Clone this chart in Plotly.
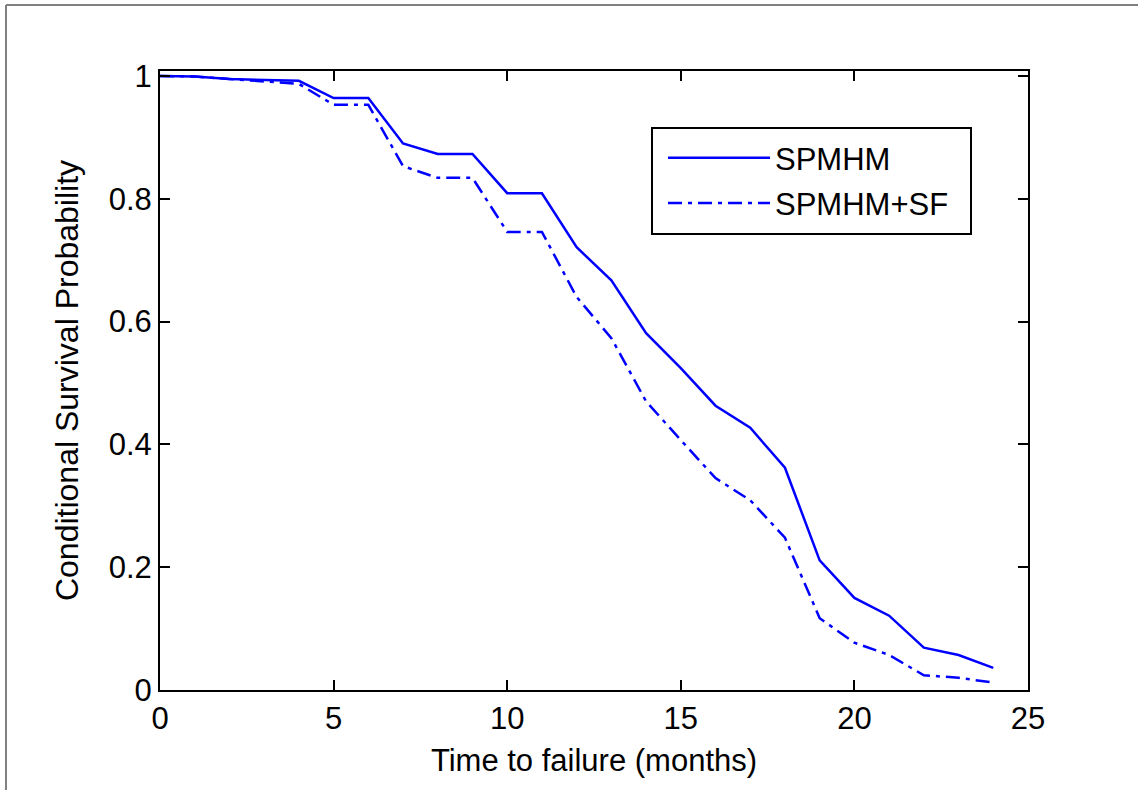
import plotly.graph_objects as go

months = list(range(0, 25))
spmhm = [1.000, 0.999, 0.995, 0.994, 0.992, 0.964, 0.964, 0.890, 0.873, 0.873,
         0.809, 0.809, 0.721, 0.667, 0.581, 0.524, 0.463, 0.427, 0.362, 0.211,
         0.150, 0.121, 0.069, 0.057, 0.036]
spmhm_sf = [1.000, 0.999, 0.995, 0.991, 0.987, 0.953, 0.953, 0.853, 0.834, 0.834,
            0.746, 0.746, 0.640, 0.573, 0.470, 0.407, 0.345, 0.309, 0.248, 0.117,
            0.077, 0.057, 0.024, 0.020, 0.012]
x_ticks = [0, 5, 10, 15, 20, 25]
y_ticks = [0, 0.2, 0.4, 0.6, 0.8, 1]
y_tick_labels = ["0", "0.2", "0.4", "0.6", "0.8", "1"]

FONT = "Liberation Sans, Arial, Helvetica, sans-serif"
FS = 31

fig = go.Figure()
fig.add_trace(go.Scatter(x=months, y=spmhm, mode="lines", name="SPMHM", legendgroup="a",
                         line=dict(color="#0000ff", width=2.5)))
fig.add_trace(go.Scatter(x=months, y=spmhm_sf, mode="lines", name="SPMHM+SF", legendgroup="b",
                         line=dict(color="#0000ff", width=2.5, dash="14px,6px,4px,6px")))

L, R, T, B = 160, 110, 71, 100
W, H = 1138, 790
pw, ph = W - L - R, H - T - B


def px(xp):
    return (xp - L) / pw


def py(yp):
    return (H - B - yp) / ph


axis_common = dict(showgrid=False, zeroline=False, showline=True, linecolor="black",
                   linewidth=2, mirror="ticks", ticks="inside", ticklen=10,
                   tickwidth=2, tickcolor="black",
                   tickfont=dict(family=FONT, size=FS, color="black"))

fig.update_layout(
    width=W, height=H,
    margin=dict(l=L, r=R, t=T, b=B, autoexpand=False),
    paper_bgcolor="white", plot_bgcolor="white",
    font=dict(family=FONT, size=FS, color="black"),
    xaxis=dict(range=[0, 25], tickvals=x_ticks, ticktext=[str(v) for v in x_ticks],
               title=dict(text="Time to failure (months)", font=dict(family=FONT, size=FS), standoff=14),
               **axis_common),
    yaxis=dict(range=[0, 1.008], tickvals=y_ticks, ticktext=y_tick_labels,
               title=dict(text="Conditional Survival Probability", font=dict(family=FONT, size=32), standoff=20),
               **axis_common),
    legend=dict(x=px(663), y=py(131), xanchor="left", yanchor="top",
                bgcolor="rgba(0,0,0,0)", borderwidth=0,
                font=dict(family=FONT, size=FS, color="black"),
                itemwidth=102, tracegroupgap=2),
    showlegend=True,
)

# Legend frame
fig.add_shape(type="rect", xref="paper", yref="paper",
              x0=px(652), x1=px(971), y0=py(128), y1=py(234),
              line=dict(color="black", width=2), fillcolor="rgba(0,0,0,0)", layer="above")

# Outer gray figure border (top and left)
fig.add_shape(type="line", xref="paper", yref="paper",
              x0=px(6), x1=px(W), y0=py(5), y1=py(5),
              line=dict(color="#808080", width=2))
fig.add_shape(type="line", xref="paper", yref="paper",
              x0=px(6), x1=px(6), y0=py(5), y1=py(H),
              line=dict(color="#808080", width=2))

fig.write_html("out.html", config={"displayModeBar": False},
               post_script="document.body.style.margin='0';")
